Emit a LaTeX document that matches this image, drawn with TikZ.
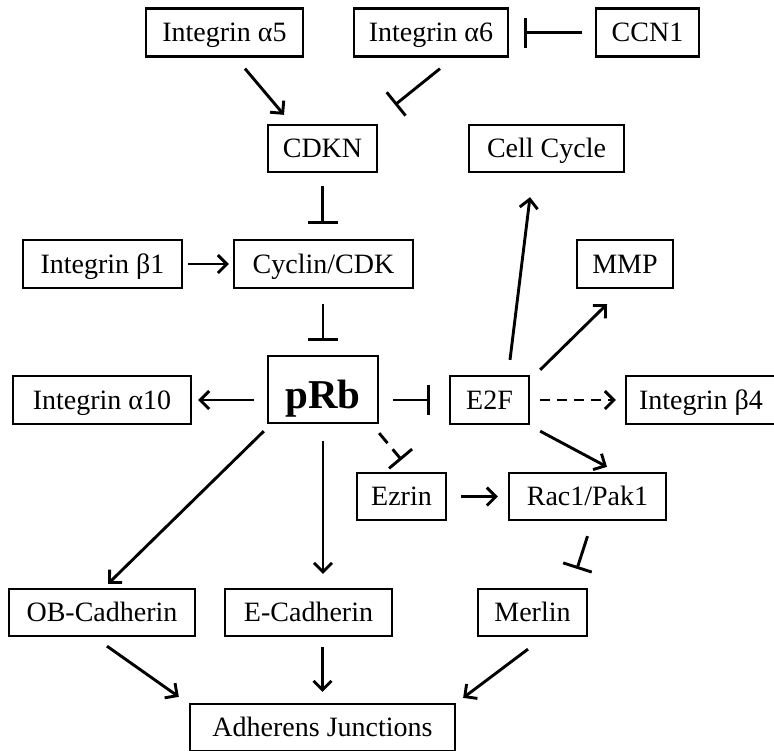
\documentclass[tikz,border=0pt]{standalone}
\usepackage{fontspec}
\setmainfont{Liberation Serif}
\usetikzlibrary{arrows.meta}
\begin{document}
\begin{tikzpicture}[x=1pt,y=-1pt,
  box/.style={draw=black,line width=2.3pt,inner sep=0pt,minimum height=48pt,
    font=\fontsize{28}{30}\selectfont,text height=18.5pt,text depth=0pt},
  bigbox/.style={draw=black,line width=2.3pt,inner sep=0pt,minimum height=67pt,
    font=\fontsize{41}{44}\selectfont\bfseries,text height=37pt,text depth=0pt},
  act/.style={line width=2.9pt,-{Straight Barb[length=9pt,width=18pt,line width=2.9pt]}},
  inh/.style={line width=2.9pt,-{Bar[width=30pt,line width=2.9pt]}},
  dsh/.style={dash pattern=on 10pt off 7pt},
  dshb/.style={dash pattern=on 13pt off 8pt}]
\useasboundingbox (0,0) rectangle (774,750);
\clip (0,0) rectangle (774,750);
% nodes
\node[box,minimum width=157pt] (a5) at (224.5,32.5) {Integrin α5};
\node[box,minimum width=154pt] (a6) at (431,32.5) {Integrin α6};
\node[box,minimum width=103pt] (ccn) at (647.5,32.5) {CCN1};
\node[box,minimum width=109pt,minimum height=47pt] (cdkn) at (322.5,148.5) {CDKN};
\node[box,minimum width=155pt,minimum height=47pt] (cc) at (546.5,148.5) {Cell Cycle};
\node[box,minimum width=159pt] (b1) at (102.5,264) {Integrin β1};
\node[box,minimum width=179pt] (cyc) at (323.5,264) {Cyclin/CDK};
\node[box,minimum width=96pt] (mmp) at (625,264) {MMP};
\node[bigbox,minimum width=110pt] (prb) at (323,389.5) {pRb};
\node[box,minimum width=178pt] (a10) at (102,400) {Integrin α10};
\node[box,minimum width=79pt] (e2f) at (489.5,400) {E2F};
\node[box,minimum width=150pt] (b4) at (701,400) {Integrin β4};
\node[box,minimum width=89pt,minimum height=47pt] (ez) at (401.5,496.5) {Ezrin};
\node[box,minimum width=157pt,minimum height=47pt] (rac) at (587.5,496.5) {Rac1/Pak1};
\node[box,minimum width=186pt,minimum height=47pt] (ob) at (102,612.5) {OB-Cadherin};
\node[box,minimum width=167pt,minimum height=47pt] (ec) at (308.5,612.5) {E-Cadherin};
\node[box,minimum width=109pt,minimum height=47pt] (mer) at (532.5,612.5) {Merlin};
\node[box,minimum width=265pt,minimum height=47pt] (aj) at (322.5,727.5) {Adherens Junctions};
% connectors (shift y is measured downward)
\draw[act] ([shift={(20.5,11)}]a5.south) -- ([shift={(-38.5,-9)}]cdkn.north);
\draw[inh] ([shift={(9,11)}]a6.south) -- ([shift={(72.5,-19)}]cdkn.north);
\draw[inh] ([shift={(-13,0)}]ccn.west) -- ([shift={(15,0)}]a6.east);
\draw[inh] ([shift={(0,13)}]cdkn.south) -- ([shift={(0,-15)}]cdkn.south |- cyc.north);
\draw[act] ([shift={(5,0)}]b1.east) -- ([shift={(-4,0)}]cyc.west);
\draw[inh] ([shift={(0,15)}]prb.north |- cyc.south) -- ([shift={(0,-14)}]prb.north);
\draw[act] ([shift={(-13,0)}]prb.west |- a10.east) -- ([shift={(6,0)}]a10.east);
\draw[inh] ([shift={(14,0)}]prb.east |- e2f.west) -- ([shift={(-19,0)}]e2f.west);
\draw[act,dsh] ([shift={(10,0)}]e2f.east) -- ([shift={(-9,0)}]b4.west);
\draw[act] ([shift={(20.5,-15)}]e2f.north) -- ([shift={(-16.5,24)}]cc.south);
\draw[act] ([shift={(10,-5)}]e2f.north east) -- ([shift={(-18,15)}]mmp.south);
\draw[act] ([shift={(10,6)}]e2f.south east) -- ([shift={(19.5,-5)}]rac.north);
\draw[inh,dshb] ([shift={(0,9)}]prb.south east) -- ([shift={(0,-12)}]ez.north);
\draw[act] ([shift={(14,0)}]ez.east) -- ([shift={(-10,0)}]rac.west);
\draw[inh] ([shift={(0,15)}]rac.south) -- ([shift={(-10.5,-19)}]rac.south |- mer.north);
\draw[act] ([shift={(-3,7)}]prb.south west) -- ([shift={(6,-4)}]ob.north);
\draw[act] ([shift={(0,17)}]prb.south) -- ([shift={(0,-14)}]prb.south |- ec.north);
\draw[act] ([shift={(5,9)}]ob.south) -- ([shift={(-10,-6)}]aj.north west);
\draw[act] ([shift={(0,10)}]aj.north |- ec.south) -- ([shift={(0,-11)}]aj.north);
\draw[act] ([shift={(-4.5,12)}]mer.south) -- ([shift={(7,-5)}]aj.north east);
\end{tikzpicture}
\end{document}
